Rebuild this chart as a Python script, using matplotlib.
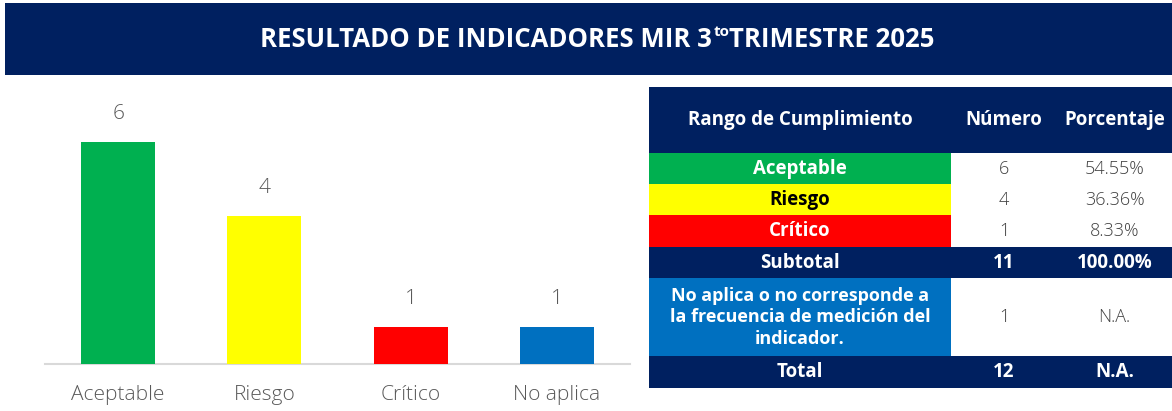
import matplotlib
matplotlib.use("Agg")
import matplotlib.pyplot as plt
from matplotlib.patches import Rectangle

# ---------------- data ----------------
categories = ["Aceptable", "Riesgo", "Crítico", "No aplica"]
values = [6, 4, 1, 1]
bar_colors = ["#00B050", "#FFFF00", "#FF0000", "#0070C0"]

title_main = "RESULTADO DE INDICADORES MIR 3"
title_sup = "to"
title_rest = "TRIMESTRE 2025"

header = ["Rango de Cumplimiento", "Número", "Porcentaje"]
range_labels = ["Aceptable", "Riesgo", "Crítico"]
range_counts = ["6", "4", "1"]
range_pcts = ["54.55%", "36.36%", "8.33%"]
range_colors = ["#00B050", "#FFFF00", "#FF0000"]
range_text_colors = ["white", "black", "white"]
subtotal_row = ["Subtotal", "11", "100.00%"]
na_row = ["No aplica o no corresponde a\nla frecuencia de medición del\nindicador.", "1", "N.A."]
na_color = "#0070C0"
total_row = ["Total", "12", "N.A."]

NAVY = "#002060"
GRAY = "#595959"
FONT = ["Open Sans", "DejaVu Sans"]

W, H = 1172, 411
fig = plt.figure(figsize=(W / 100, H / 100), dpi=100)
fig.patch.set_facecolor("white")

# overlay axes in pixel coordinates (y downward)
ov = fig.add_axes([0, 0, 1, 1])
ov.set_xlim(0, W)
ov.set_ylim(H, 0)
ov.axis("off")

# ---------------- title bar ----------------
ov.add_patch(Rectangle((5, 3), W - 5, 72, facecolor=NAVY, edgecolor="none"))
t1 = ov.text(0, 47, title_main, color="white", fontsize=18.5, fontweight="bold",
             family=FONT, va="baseline", ha="left")
t2 = ov.text(0, 36, title_sup, color="white", fontsize=11, fontweight="bold",
             family=FONT, va="baseline", ha="left")
t3 = ov.text(0, 47, title_rest, color="white", fontsize=18.5, fontweight="bold",
             family=FONT, va="baseline", ha="left")
r = fig.canvas.get_renderer()
w1 = t1.get_window_extent(r).width
w2 = t2.get_window_extent(r).width
w3 = t3.get_window_extent(r).width
x0 = 597 - (w1 + w2 + w3) / 2
t1.set_x(x0)
t2.set_x(x0 + w1 + 1)
t3.set_x(x0 + w1 + w2 + 1)

# ---------------- bar chart ----------------
ax_l, ax_r, ax_b, ax_t = 45, 630, 364, 105
ax = fig.add_axes([ax_l / W, (H - ax_b) / H, (ax_r - ax_l) / W, (ax_b - ax_t) / H])
x = list(range(len(categories)))
bars = ax.bar(x, values, width=0.505, color=bar_colors, zorder=3)
ax.set_xlim(-0.5, len(categories) - 0.5)
ax.set_ylim(0, 7)
for s in ["top", "left", "right"]:
    ax.spines[s].set_visible(False)
ax.spines["bottom"].set_color("#D9D9D9")
ax.spines["bottom"].set_linewidth(1.5)
ax.set_yticks([])
ax.set_xticks(x)
ax.set_xticklabels(categories, fontsize=15, color=GRAY, family=FONT, fontweight="light")
ax.tick_params(axis="x", length=0, pad=15)
ax.patch.set_alpha(0)
for rect, v in zip(bars, values):
    ax.annotate(str(v), (rect.get_x() + rect.get_width() / 2, v),
                xytext=(0, 13), textcoords="offset points", ha="center", va="bottom",
                fontsize=15, color=GRAY, family=FONT, fontweight="light")

# ---------------- table ----------------
cols = [649, 951, 1057, W]
rows = [87, 153, 184, 215, 247, 278, 356, 388]
VAL_COLOR = "#404040"
FS = 13.5


def cell(ci, ri, color):
    ov.add_patch(Rectangle((cols[ci], rows[ri]), cols[ci + 1] - cols[ci],
                           rows[ri + 1] - rows[ri], facecolor=color, edgecolor="none"))


def ctext(ci, ri, s, color, bold=True, fs=FS, ls=1.2):
    cx = (cols[ci] + cols[ci + 1]) / 2
    cy = (rows[ri] + rows[ri + 1]) / 2
    ov.text(cx, cy, s, color=color, fontsize=fs, family=FONT,
            fontweight="bold" if bold else "light", ha="center", va="center",
            linespacing=ls)


# header
for ci in range(3):
    cell(ci, 0, NAVY)
    ctext(ci, 0, header[ci], "white", fs=13.5)

for i in range(3):
    ri = 1 + i
    cell(0, ri, range_colors[i])
    ctext(0, ri, range_labels[i], range_text_colors[i])
    ctext(1, ri, range_counts[i], VAL_COLOR, bold=False, fs=13)
    ctext(2, ri, range_pcts[i], VAL_COLOR, bold=False, fs=13)

for ci in range(3):
    cell(ci, 4, NAVY)
    ctext(ci, 4, subtotal_row[ci], "white")

cell(0, 5, na_color)
ctext(0, 5, na_row[0], "white", fs=13, ls=1.25)
ctext(1, 5, na_row[1], VAL_COLOR, bold=False, fs=13)
ctext(2, 5, na_row[2], VAL_COLOR, bold=False, fs=13)

for ci in range(3):
    cell(ci, 6, NAVY)
    ctext(ci, 6, total_row[ci], "white")

fig.savefig("out.png", dpi=100)
